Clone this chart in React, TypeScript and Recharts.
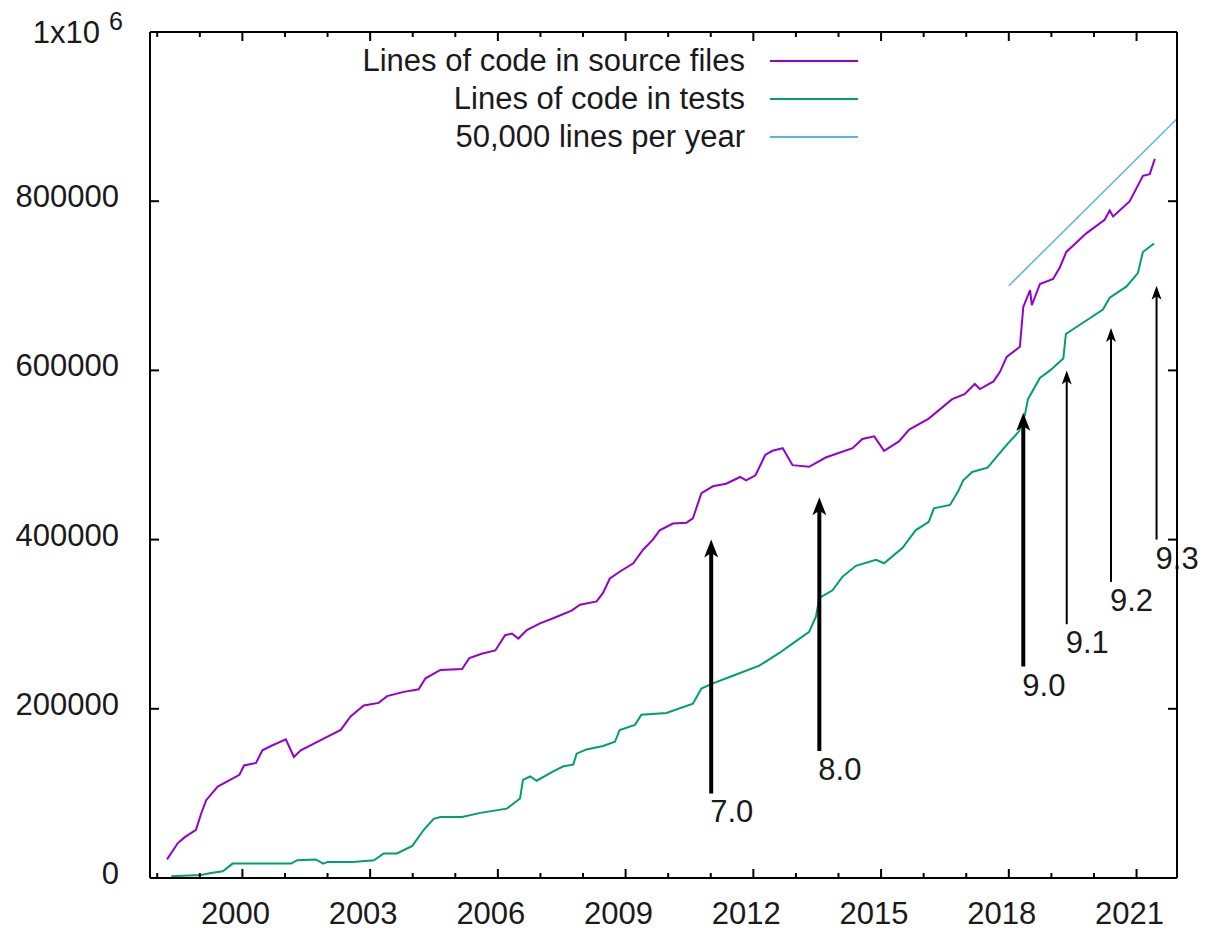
import React from 'react';
import { LineChart, Line, XAxis, YAxis, ReferenceLine, Legend } from 'recharts';

const FONT = '"Liberation Sans", Arial, sans-serif';

// x range of the plot (decimal years)
const X_MIN = 1997.83;
const X_MAX = 2021.95;

const YEAR_TICKS = [
  1998, 1999, 2000, 2001, 2002, 2003, 2004, 2005, 2006, 2007, 2008, 2009,
  2010, 2011, 2012, 2013, 2014, 2015, 2016, 2017, 2018, 2019, 2020, 2021,
];
const Y_TICKS = [0, 200000, 400000, 600000, 800000, 1000000];

// lines of code in source files
const SRC_YEARS = [
  1998.23, 1998.48, 1998.64, 1998.91, 1999.03, 1999.15, 1999.42, 1999.93, 2000.04, 2000.32,
  2000.47, 2000.67, 2001.02, 2001.21, 2001.37, 2001.84, 2002.31, 2002.54, 2002.85, 2003.2,
  2003.4, 2003.79, 2004.14, 2004.3, 2004.65, 2005.16, 2005.33, 2005.62, 2005.94, 2006.17,
  2006.33, 2006.48, 2006.68, 2006.99, 2007.3, 2007.73, 2007.93, 2008.32, 2008.47, 2008.63,
  2008.86, 2009.18, 2009.41, 2009.64, 2009.8, 2010.11, 2010.43, 2010.58, 2010.78, 2011.05,
  2011.36, 2011.69, 2011.83, 2012.05, 2012.28, 2012.45, 2012.69, 2012.92, 2013.31, 2013.7,
  2014.33, 2014.56, 2014.84, 2015.07, 2015.42, 2015.66, 2016.12, 2016.67, 2016.96, 2017.2,
  2017.32, 2017.64, 2017.79, 2017.95, 2018.26, 2018.34, 2018.5, 2018.54, 2018.73, 2019.04,
  2019.2, 2019.35, 2019.82, 2020.25, 2020.37, 2020.45, 2020.84, 2021.15, 2021.31, 2021.43,
];
const SRC_LINES = [
  22000, 41000, 48000, 57000, 76000, 92000, 108000, 122000, 133000, 136000,
  151000, 156000, 164000, 143000, 151000, 163000, 175000, 191000, 204000, 207000,
  215000, 220000, 223000, 236000, 246000, 247000, 260000, 265000, 269000, 287000,
  289000, 283000, 293000, 301000, 307000, 316000, 323000, 327000, 337000, 354000,
  362000, 372000, 388000, 400000, 411000, 419000, 420000, 425000, 455000, 463000,
  466000, 474000, 470000, 476000, 500000, 505000, 508000, 488000, 486000, 497000,
  508000, 519000, 522000, 505000, 516000, 530000, 543000, 566000, 572000, 584000,
  578000, 587000, 598000, 616000, 628000, 675000, 695000, 677000, 702000, 708000,
  722000, 740000, 762000, 778000, 789000, 782000, 800000, 830000, 832000, 850000,
];

// lines of code in tests
const TEST_YEARS = [
  1998.33, 1999.03, 1999.26, 1999.54, 1999.77, 2001.14, 2001.29, 2001.72, 2001.9, 2002.0,
  2002.6, 2003.09, 2003.32, 2003.63, 2003.99, 2004.26, 2004.49, 2004.65, 2005.16, 2005.59,
  2006.21, 2006.52, 2006.59, 2006.76, 2006.91, 2007.3, 2007.54, 2007.77, 2007.85, 2008.08,
  2008.47, 2008.75, 2008.86, 2009.22, 2009.37, 2009.96, 2010.58, 2010.78, 2011.05, 2011.52,
  2012.14, 2012.61, 2012.92, 2013.31, 2013.47, 2013.55, 2013.86, 2014.09, 2014.41, 2014.88,
  2015.07, 2015.5, 2015.81, 2016.12, 2016.24, 2016.62, 2016.81, 2016.93, 2017.14, 2017.5,
  2017.95, 2018.24, 2018.38, 2018.45, 2018.73, 2018.97, 2019.28, 2019.34, 2019.67, 2020.21,
  2020.37, 2020.76, 2021.03, 2021.15, 2021.41,
];
const TEST_LINES = [
  2000, 3500, 6000, 8000, 17000, 17000, 21000, 22000, 17000, 19000,
  19000, 21000, 29000, 29000, 38000, 57000, 70000, 72000, 72000, 77000,
  82000, 94000, 116000, 120000, 115000, 126000, 132000, 134000, 147000, 152000,
  156000, 161000, 175000, 181000, 193000, 195000, 206000, 224000, 230000, 239000,
  251000, 266000, 277000, 291000, 309000, 331000, 340000, 356000, 369000, 376000,
  372000, 390000, 411000, 421000, 437000, 441000, 457000, 470000, 480000, 485000,
  512000, 528000, 548000, 566000, 591000, 600000, 614000, 643000, 654000, 672000,
  686000, 699000, 715000, 740000, 750000,
];

// 50,000 lines per year reference
const TREND_YEARS = [2018, 2022];
const TREND_LINES = [700000, 900000];

const SERIES_NAMES = ['Lines of code in source files', 'Lines of code in tests', '50,000 lines per year'];

// release markers
const RELEASES = ['7.0', '8.0', '9.0', '9.1', '9.2', '9.3'];
const RELEASE_YEARS = [2011.01, 2013.55, 2018.34, 2019.36, 2020.4, 2021.47];
const ARROW_FROM = [100000, 150000, 250000, 300000, 350000, 400000];
const ARROW_TO = [400000, 450000, 550000, 600000, 650000, 700000];

const srcData = SRC_YEARS.map((year, i) => ({ year, lines: SRC_LINES[i] }));
const testData = TEST_YEARS.map((year, i) => ({ year, lines: TEST_LINES[i] }));
const trendData = TREND_YEARS.map((year, i) => ({ year, lines: TREND_LINES[i] }));

const txt = { fontFamily: FONT, fontSize: 31, fill: '#1a1a1a' };

const BottomTick = (props: any) => {
  const { x, y, payload } = props;
  const v = payload.value;
  const major = v >= 2000 && (v - 2000) % 3 === 0;
  return (
    <g>
      <line x1={x} x2={x} y1={y} y2={y - (major ? 9 : 5)} stroke="#000" strokeWidth={2} />
      {major && (
        <text x={x - 7} y={y + 46} textAnchor="middle" {...txt}>
          {v}
        </text>
      )}
    </g>
  );
};

const TopTick = (props: any) => {
  const { x, y, payload } = props;
  const v = payload.value;
  const major = v >= 2000 && (v - 2000) % 3 === 0;
  return <line x1={x} x2={x} y1={y} y2={y + (major ? 9 : 5)} stroke="#000" strokeWidth={2} />;
};

const LeftTick = (props: any) => {
  const { x, y, payload } = props;
  const v = payload.value;
  return (
    <g>
      <line x1={x} x2={x + 9} y1={y} y2={y} stroke="#000" strokeWidth={2} />
      {v === 1000000 ? (
        <text x={x - 27} y={y + 11} textAnchor="end" {...txt}>
          1x10
          <tspan dx={9} dy={-13} fontSize={25}>6</tspan>
        </text>
      ) : (
        <text x={x - 31} y={y + 6} textAnchor="end" {...txt}>
          {v}
        </text>
      )}
    </g>
  );
};

const RightTick = (props: any) => {
  const { x, y } = props;
  return <line x1={x} x2={x - 9} y1={y} y2={y} stroke="#000" strokeWidth={2} />;
};

const ReleaseArrow = (props: any) => {
  const { x1, y1, x2, y2, name } = props;
  const major = name.endsWith('.0');
  const w = major ? 4 : 2;
  const hw = major ? 7 : 5;
  const hl = major ? 18 : 14;
  return (
    <g>
      <line x1={x1} y1={y1} x2={x2} y2={y2 + hl * 0.7} stroke="#000" strokeWidth={w} />
      <polygon
        points={`${x2},${y2} ${x2 - hw},${y2 + hl} ${x2},${y2 + hl * 0.75} ${x2 + hw},${y2 + hl}`}
        fill="#000"
      />
      <text x={x1 - 1} y={y1 + 29} textAnchor="start" {...txt}>
        {name}
      </text>
    </g>
  );
};

const renderLegend = (props: any) => {
  const items = [...(props.payload || [])].sort(
    (a: any, b: any) => SERIES_NAMES.indexOf(a.value) - SERIES_NAMES.indexOf(b.value)
  );
  return (
    <div style={{ fontFamily: FONT, fontSize: 31, color: '#1a1a1a' }}>
      {items.map((entry: any) => (
        <div key={entry.value} style={{ display: 'flex', alignItems: 'center', height: 38 }}>
          <span style={{ width: 445, textAlign: 'right', whiteSpace: 'nowrap' }}>{entry.value}</span>
          <svg width={115} height={10}>
            <line x1={25} x2={113} y1={5} y2={5} stroke={entry.color} strokeWidth={2} />
          </svg>
        </div>
      ))}
    </div>
  );
};

export default function App() {
  return (
    <div style={{ position: 'absolute', left: 0, top: 0, width: 1200, height: 930, background: '#fff' }}>
      <LineChart width={1200} height={930} margin={{ top: 0, right: 0, bottom: 0, left: 0 }}>
        <XAxis
          xAxisId="b"
          type="number"
          dataKey="year"
          domain={[X_MIN, X_MAX]}
          allowDataOverflow
          ticks={YEAR_TICKS}
          interval={0}
          height={52}
          tickSize={0}
          tickMargin={0}
          tickLine={false}
          axisLine={{ stroke: '#000', strokeWidth: 2 }}
          tick={<BottomTick />}
        />
        <XAxis
          xAxisId="t"
          orientation="top"
          type="number"
          dataKey="year"
          domain={[X_MIN, X_MAX]}
          allowDataOverflow
          ticks={YEAR_TICKS}
          interval={0}
          height={32}
          tickSize={0}
          tickMargin={0}
          tickLine={false}
          axisLine={{ stroke: '#000', strokeWidth: 2 }}
          tick={<TopTick />}
        />
        <YAxis
          yAxisId="l"
          type="number"
          domain={[0, 1000000]}
          allowDataOverflow
          ticks={Y_TICKS}
          interval={0}
          width={150}
          tickSize={0}
          tickMargin={0}
          tickLine={false}
          axisLine={{ stroke: '#000', strokeWidth: 2 }}
          tick={<LeftTick />}
        />
        <YAxis
          yAxisId="r"
          orientation="right"
          type="number"
          domain={[0, 1000000]}
          allowDataOverflow
          ticks={Y_TICKS}
          interval={0}
          width={23}
          tickSize={0}
          tickMargin={0}
          tickLine={false}
          axisLine={{ stroke: '#000', strokeWidth: 2 }}
          tick={<RightTick />}
        />
        <Legend
          layout="vertical"
          align="center"
          verticalAlign="middle"
          content={renderLegend}
          wrapperStyle={{ position: 'absolute', left: 300, top: 42, width: 580 }}
        />
        <Line
          xAxisId="b"
          yAxisId="l"
          data={srcData}
          dataKey="lines"
          name={SERIES_NAMES[0]}
          type="linear"
          stroke="#9400d3"
          strokeWidth={2}
          dot={false}
          isAnimationActive={false}
        />
        <Line
          xAxisId="b"
          yAxisId="l"
          data={testData}
          dataKey="lines"
          name={SERIES_NAMES[1]}
          type="linear"
          stroke="#009e73"
          strokeWidth={2}
          dot={false}
          isAnimationActive={false}
        />
        <Line
          xAxisId="b"
          yAxisId="l"
          data={trendData}
          dataKey="lines"
          name={SERIES_NAMES[2]}
          type="linear"
          stroke="#56b4e9"
          strokeWidth={1.5}
          dot={false}
          isAnimationActive={false}
        />
        {RELEASES.map((r, i) => (
          <ReferenceLine
            key={r}
            xAxisId="b"
            yAxisId="l"
            ifOverflow="visible"
            segment={[
              { x: RELEASE_YEARS[i], y: ARROW_FROM[i] },
              { x: RELEASE_YEARS[i], y: ARROW_TO[i] },
            ]}
            shape={(p: any) => <ReleaseArrow {...p} name={r} />}
          />
        ))}
      </LineChart>
    </div>
  );
}
